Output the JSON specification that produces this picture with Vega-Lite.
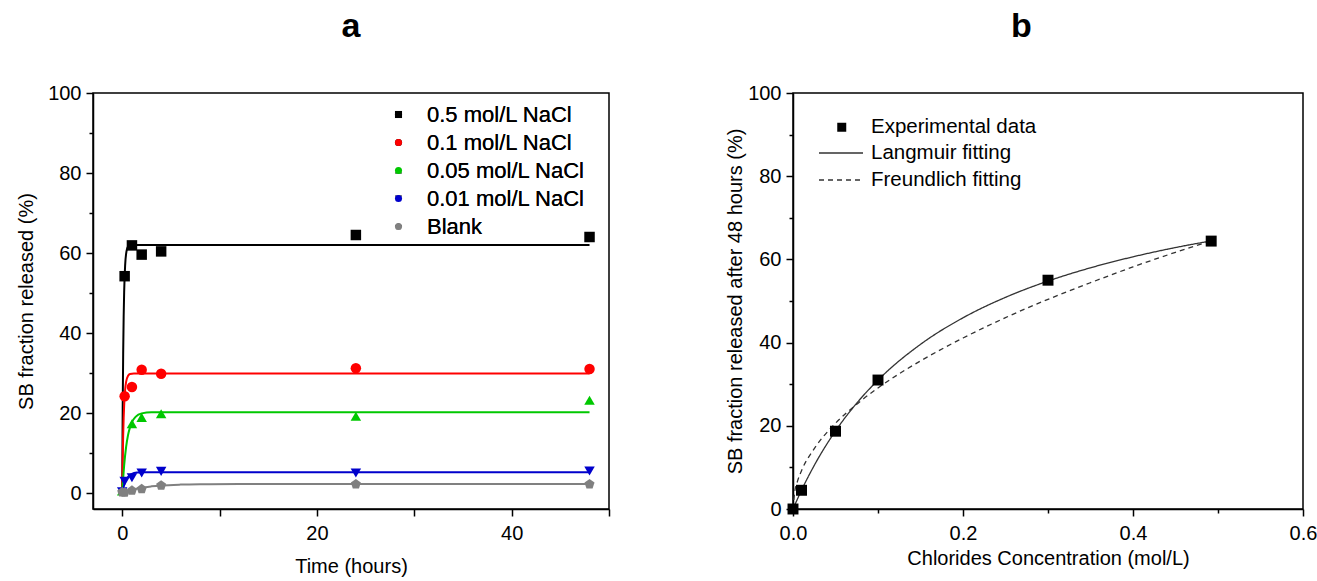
{
  "$schema": "https://vega.github.io/schema/vega-lite/v6.json",
  "background": "white",
  "padding": {"left": 15, "top": 9, "right": 0, "bottom": 0},
  "spacing": 113,
  "config": {
    "font": "Liberation Sans",
    "view": {"stroke": "black", "strokeWidth": 1.5},
    "axis": {
      "labelFont": "Liberation Sans", "labelFontSize": 20, "labelColor": "black",
      "titleFont": "Liberation Sans", "titleFontSize": 20, "titleFontWeight": "normal", "titleColor": "black",
      "domainColor": "black", "domainWidth": 1.5, "tickColor": "black", "tickWidth": 1.5,
      "grid": false, "labelPadding": 5, "labelFlush": false, "labelOverlap": false
    },
    "axisX": {"labelPadding": 7},
    "legend": {"labelFont": "Liberation Sans", "labelColor": "black", "padding": 0, "labelLimit": 400},
    "title": {"font": "Liberation Sans", "fontSize": 34, "fontWeight": "bold", "color": "black"}
  },
  "resolve": {
    "scale": {"color": "independent", "shape": "independent", "strokeDash": "independent"},
    "legend": {"color": "independent", "shape": "independent", "strokeDash": "independent"}
  },
  "datasets": {
    "kinetics_points": [
      {"series": "0.5 mol/L NaCl", "t": 0.25, "v": 54.2},
      {"series": "0.5 mol/L NaCl", "t": 1, "v": 61.9},
      {"series": "0.5 mol/L NaCl", "t": 2, "v": 59.6},
      {"series": "0.5 mol/L NaCl", "t": 4, "v": 60.4},
      {"series": "0.5 mol/L NaCl", "t": 24, "v": 64.5},
      {"series": "0.5 mol/L NaCl", "t": 48, "v": 64.0},
      {"series": "0.1 mol/L NaCl", "t": 0.25, "v": 24.2},
      {"series": "0.1 mol/L NaCl", "t": 1, "v": 26.5},
      {"series": "0.1 mol/L NaCl", "t": 2, "v": 30.8},
      {"series": "0.1 mol/L NaCl", "t": 4, "v": 29.8},
      {"series": "0.1 mol/L NaCl", "t": 24, "v": 31.2},
      {"series": "0.1 mol/L NaCl", "t": 48, "v": 31.0},
      {"series": "0.05 mol/L NaCl", "t": 0, "v": 0.5},
      {"series": "0.05 mol/L NaCl", "t": 1, "v": 17.3},
      {"series": "0.05 mol/L NaCl", "t": 2, "v": 18.9},
      {"series": "0.05 mol/L NaCl", "t": 4, "v": 19.8},
      {"series": "0.05 mol/L NaCl", "t": 24, "v": 19.2},
      {"series": "0.05 mol/L NaCl", "t": 48, "v": 23.2},
      {"series": "0.01 mol/L NaCl", "t": 0, "v": 0.3},
      {"series": "0.01 mol/L NaCl", "t": 0.25, "v": 2.9},
      {"series": "0.01 mol/L NaCl", "t": 1, "v": 3.8},
      {"series": "0.01 mol/L NaCl", "t": 2, "v": 5.0},
      {"series": "0.01 mol/L NaCl", "t": 4, "v": 5.4},
      {"series": "0.01 mol/L NaCl", "t": 24, "v": 5.0},
      {"series": "0.01 mol/L NaCl", "t": 48, "v": 5.5},
      {"series": "Blank", "t": 0, "v": 0.2},
      {"series": "Blank", "t": 0.25, "v": 0.1},
      {"series": "Blank", "t": 1, "v": 0.6},
      {"series": "Blank", "t": 2, "v": 1.0},
      {"series": "Blank", "t": 4, "v": 1.9},
      {"series": "Blank", "t": 24, "v": 2.2},
      {"series": "Blank", "t": 48, "v": 2.2}
    ],
    "kinetics_fit": [
      {"series": "0.5 mol/L NaCl", "t": 0, "v": 0},
      {"series": "0.5 mol/L NaCl", "t": 0.05, "v": 21.1},
      {"series": "0.5 mol/L NaCl", "t": 0.1, "v": 35.0},
      {"series": "0.5 mol/L NaCl", "t": 0.15, "v": 44.2},
      {"series": "0.5 mol/L NaCl", "t": 0.2, "v": 50.2},
      {"series": "0.5 mol/L NaCl", "t": 0.3, "v": 56.9},
      {"series": "0.5 mol/L NaCl", "t": 0.4, "v": 59.8},
      {"series": "0.5 mol/L NaCl", "t": 0.6, "v": 61.6},
      {"series": "0.5 mol/L NaCl", "t": 0.8, "v": 61.9},
      {"series": "0.5 mol/L NaCl", "t": 1.2, "v": 62.0},
      {"series": "0.5 mol/L NaCl", "t": 48, "v": 62.0},
      {"series": "0.1 mol/L NaCl", "t": 0, "v": 0},
      {"series": "0.1 mol/L NaCl", "t": 0.05, "v": 8.4},
      {"series": "0.1 mol/L NaCl", "t": 0.1, "v": 14.4},
      {"series": "0.1 mol/L NaCl", "t": 0.15, "v": 18.8},
      {"series": "0.1 mol/L NaCl", "t": 0.2, "v": 21.9},
      {"series": "0.1 mol/L NaCl", "t": 0.3, "v": 25.8},
      {"series": "0.1 mol/L NaCl", "t": 0.4, "v": 27.8},
      {"series": "0.1 mol/L NaCl", "t": 0.6, "v": 29.3},
      {"series": "0.1 mol/L NaCl", "t": 0.8, "v": 29.75},
      {"series": "0.1 mol/L NaCl", "t": 1.2, "v": 29.9},
      {"series": "0.1 mol/L NaCl", "t": 48, "v": 29.9},
      {"series": "0.05 mol/L NaCl", "t": 0, "v": 0},
      {"series": "0.05 mol/L NaCl", "t": 0.2, "v": 6.9},
      {"series": "0.05 mol/L NaCl", "t": 0.4, "v": 11.5},
      {"series": "0.05 mol/L NaCl", "t": 0.6, "v": 14.5},
      {"series": "0.05 mol/L NaCl", "t": 0.8, "v": 16.4},
      {"series": "0.05 mol/L NaCl", "t": 1, "v": 17.7},
      {"series": "0.05 mol/L NaCl", "t": 1.4, "v": 19.1},
      {"series": "0.05 mol/L NaCl", "t": 2, "v": 19.9},
      {"series": "0.05 mol/L NaCl", "t": 3, "v": 20.2},
      {"series": "0.05 mol/L NaCl", "t": 48, "v": 20.2},
      {"series": "0.01 mol/L NaCl", "t": 0, "v": 0},
      {"series": "0.01 mol/L NaCl", "t": 0.25, "v": 2.4},
      {"series": "0.01 mol/L NaCl", "t": 0.5, "v": 3.7},
      {"series": "0.01 mol/L NaCl", "t": 0.75, "v": 4.4},
      {"series": "0.01 mol/L NaCl", "t": 1, "v": 4.8},
      {"series": "0.01 mol/L NaCl", "t": 1.5, "v": 5.1},
      {"series": "0.01 mol/L NaCl", "t": 2, "v": 5.16},
      {"series": "0.01 mol/L NaCl", "t": 3, "v": 5.2},
      {"series": "0.01 mol/L NaCl", "t": 48, "v": 5.2},
      {"series": "Blank", "t": 0, "v": 0},
      {"series": "Blank", "t": 1, "v": 0.81},
      {"series": "Blank", "t": 2, "v": 1.34},
      {"series": "Blank", "t": 3, "v": 1.66},
      {"series": "Blank", "t": 4, "v": 1.88},
      {"series": "Blank", "t": 6, "v": 2.1},
      {"series": "Blank", "t": 8, "v": 2.19},
      {"series": "Blank", "t": 12, "v": 2.24},
      {"series": "Blank", "t": 48, "v": 2.25}
    ],
    "isotherm_points": [
      {"kind": "Experimental data", "c": 0, "q": 0},
      {"kind": "Experimental data", "c": 0.01, "q": 4.5},
      {"kind": "Experimental data", "c": 0.05, "q": 18.7},
      {"kind": "Experimental data", "c": 0.1, "q": 31.0},
      {"kind": "Experimental data", "c": 0.3, "q": 55.0},
      {"kind": "Experimental data", "c": 0.492, "q": 64.4}
    ],
    "isotherm_fit": [
      {"model": "Langmuir fitting", "c": 0, "q": 0},
      {"model": "Langmuir fitting", "c": 0.01, "q": 4.51},
      {"model": "Langmuir fitting", "c": 0.025, "q": 10.48},
      {"model": "Langmuir fitting", "c": 0.05, "q": 18.76},
      {"model": "Langmuir fitting", "c": 0.075, "q": 25.45},
      {"model": "Langmuir fitting", "c": 0.1, "q": 30.98},
      {"model": "Langmuir fitting", "c": 0.15, "q": 39.58},
      {"model": "Langmuir fitting", "c": 0.2, "q": 45.96},
      {"model": "Langmuir fitting", "c": 0.25, "q": 50.88},
      {"model": "Langmuir fitting", "c": 0.3, "q": 54.79},
      {"model": "Langmuir fitting", "c": 0.35, "q": 57.98},
      {"model": "Langmuir fitting", "c": 0.4, "q": 60.62},
      {"model": "Langmuir fitting", "c": 0.45, "q": 62.85},
      {"model": "Langmuir fitting", "c": 0.492, "q": 64.45},
      {"model": "Freundlich fitting", "c": 0, "q": 0},
      {"model": "Freundlich fitting", "c": 0.002, "q": 4.1},
      {"model": "Freundlich fitting", "c": 0.005, "q": 6.5},
      {"model": "Freundlich fitting", "c": 0.01, "q": 9.2},
      {"model": "Freundlich fitting", "c": 0.025, "q": 14.5},
      {"model": "Freundlich fitting", "c": 0.05, "q": 20.6},
      {"model": "Freundlich fitting", "c": 0.075, "q": 25.2},
      {"model": "Freundlich fitting", "c": 0.1, "q": 29.1},
      {"model": "Freundlich fitting", "c": 0.15, "q": 35.6},
      {"model": "Freundlich fitting", "c": 0.2, "q": 41.1},
      {"model": "Freundlich fitting", "c": 0.25, "q": 46.0},
      {"model": "Freundlich fitting", "c": 0.3, "q": 50.4},
      {"model": "Freundlich fitting", "c": 0.35, "q": 54.4},
      {"model": "Freundlich fitting", "c": 0.4, "q": 58.2},
      {"model": "Freundlich fitting", "c": 0.45, "q": 61.7},
      {"model": "Freundlich fitting", "c": 0.492, "q": 64.45}
    ]
  },
  "hconcat": [
    {
      "width": 516,
      "height": 416,
      "title": {"text": "a", "frame": "group", "anchor": "middle", "offset": 39},
      "layer": [
        {
          "data": {"name": "kinetics_fit"},
          "mark": {"type": "line", "interpolate": "monotone", "strokeWidth": 2},
          "encoding": {
            "x": {"field": "t", "type": "quantitative", "title": "Time (hours)",
              "scale": {"domain": [-3, 50], "nice": false, "zero": false},
              "axis": {"values": [0, 10, 20, 30, 40, 50], "labelExpr": "datum.value % 20 === 0 ? datum.label : ''", "titlePadding": 13, "tickSize": 7}},
            "y": {"field": "v", "type": "quantitative", "title": "SB fraction released (%)",
              "scale": {"domain": [-4, 100], "nice": false, "zero": false},
              "axis": {"values": [0, 10, 20, 30, 40, 50, 60, 70, 80, 90, 100], "labelExpr": "datum.value % 20 === 0 ? datum.label : ''",
                "tickSize": {"condition": {"test": "datum.value % 20 === 0", "value": 7}, "value": 4}, "titlePadding": 11}},
            "color": {"field": "series", "type": "nominal",
              "scale": {"domain": ["0.5 mol/L NaCl", "0.1 mol/L NaCl", "0.05 mol/L NaCl", "0.01 mol/L NaCl", "Blank"],
                "range": ["#000000", "#ff0000", "#00c800", "#0000cc", "#808080"]},
              "legend": null}
          }
        },
        {
          "data": {"name": "kinetics_points"},
          "mark": {"type": "point", "filled": true, "size": 110, "opacity": 1},
          "encoding": {
            "x": {"field": "t", "type": "quantitative"},
            "y": {"field": "v", "type": "quantitative"},
            "color": {"field": "series", "type": "nominal",
              "scale": {"domain": ["0.5 mol/L NaCl", "0.1 mol/L NaCl", "0.05 mol/L NaCl", "0.01 mol/L NaCl", "Blank"],
                "range": ["#000000", "#ff0000", "#00c800", "#0000cc", "#808080"]},
              "legend": {"orient": "none", "legendX": 294.5, "legendY": 10.5, "title": null, "symbolSize": 50,
                "labelFontSize": 22, "labelOffset": 17.5, "rowPadding": 6}},
            "shape": {"field": "series", "type": "nominal",
              "scale": {"domain": ["0.5 mol/L NaCl", "0.1 mol/L NaCl", "0.05 mol/L NaCl", "0.01 mol/L NaCl", "Blank"],
                "range": ["square", "circle", "triangle-up", "triangle-down", "M0,-1L0.951,-0.309L0.588,0.809L-0.588,0.809L-0.951,-0.309Z"]},
              "legend": {"orient": "none", "legendX": 294.5, "legendY": 10.5, "title": null, "symbolSize": 50,
                "labelFontSize": 22, "labelOffset": 17.5, "rowPadding": 6}}
          }
        }
      ],
      "resolve": {"scale": {"color": "independent"}, "legend": {"color": "independent"}}
    },
    {
      "width": 510,
      "height": 416,
      "title": {"text": "b", "frame": "bounds", "anchor": "middle", "offset": 39},
      "layer": [
        {
          "data": {"name": "isotherm_fit"},
          "mark": {"type": "line", "interpolate": "monotone", "strokeWidth": 1.3, "color": "#333333"},
          "encoding": {
            "x": {"field": "c", "type": "quantitative", "title": "Chlorides Concentration (mol/L)",
              "scale": {"domain": [0, 0.6], "nice": false},
              "axis": {"values": [0, 0.1, 0.2, 0.3, 0.4, 0.5, 0.6], "format": ".1f",
                "labelExpr": "round(datum.value * 10) % 2 === 0 ? datum.label : ''",
                "tickSize": {"condition": {"test": "round(datum.value * 10) % 2 === 0", "value": 7}, "value": 4},
                "titlePadding": 5}},
            "y": {"field": "q", "type": "quantitative", "title": "SB fraction released after 48 hours (%)",
              "scale": {"domain": [0, 100], "nice": false},
              "axis": {"values": [0, 10, 20, 30, 40, 50, 60, 70, 80, 90, 100], "labelExpr": "datum.value % 20 === 0 ? datum.label : ''",
                "tickSize": {"condition": {"test": "datum.value % 20 === 0", "value": 7}, "value": 4}, "titlePadding": 2}},
            "strokeDash": {"field": "model", "type": "nominal",
              "scale": {"domain": ["Langmuir fitting", "Freundlich fitting"], "range": [[1, 0], [5, 4]]},
              "legend": {"orient": "none", "legendX": 25, "legendY": 50, "title": null, "symbolType": "stroke",
                "symbolSize": 1936, "symbolStrokeWidth": 1.3, "symbolStrokeColor": "#333333", "clipHeight": 20,
                "labelFontSize": 20.5, "labelOffset": 7, "rowPadding": 6}}
          }
        },
        {
          "data": {"name": "isotherm_points"},
          "mark": {"type": "point", "filled": true, "size": 120, "color": "black", "opacity": 1},
          "encoding": {
            "x": {"field": "c", "type": "quantitative"},
            "y": {"field": "q", "type": "quantitative"},
            "shape": {"field": "kind", "type": "nominal",
              "scale": {"domain": ["Experimental data"], "range": ["square"]},
              "legend": {"orient": "none", "legendX": 38.5, "legendY": 24, "title": null, "symbolSize": 81,
                "symbolFillColor": "black", "symbolStrokeColor": "black",
                "labelFontSize": 20.5, "labelOffset": 19}}
          }
        }
      ]
    }
  ]
}
